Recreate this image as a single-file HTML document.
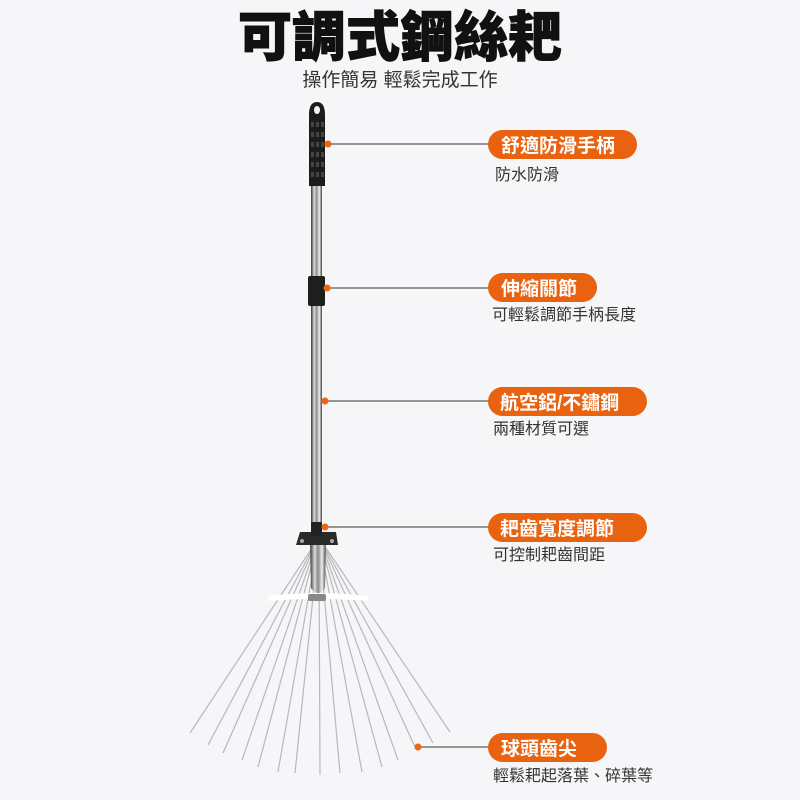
<!DOCTYPE html>
<html><head><meta charset="utf-8"><style>
html,body{margin:0;padding:0;background:#f6f6f8;}
svg{display:block}
text{font-family:"Liberation Sans","Noto Sans CJK TC",sans-serif;}
</style></head><body>
<svg width="800" height="800" viewBox="0 0 800 800" xmlns="http://www.w3.org/2000/svg">
<rect width="800" height="800" fill="#f6f6f8"/>
<defs>
<linearGradient id="pole" x1="0" x2="1" y1="0" y2="0">
<stop offset="0" stop-color="#333"/><stop offset="0.3" stop-color="#ddd"/><stop offset="0.5" stop-color="#888"/><stop offset="0.75" stop-color="#eee"/><stop offset="1" stop-color="#444"/>
</linearGradient>
</defs>
<text x="400" y="56" text-anchor="middle" font-size="54" font-weight="900" fill="#111" stroke="#111" stroke-width="1">可調式鋼絲耙</text>
<text x="400" y="86" text-anchor="middle" font-size="19" fill="#333">操作簡易 輕鬆完成工作</text>

<g stroke="#b8b8bc" stroke-width="1.2" fill="none">
<line x1="312" y1="548" x2="190" y2="733"/>
<line x1="313" y1="548" x2="208" y2="745"/>
<line x1="314" y1="548" x2="223" y2="753"/>
<line x1="315" y1="548" x2="242" y2="760"/>
<line x1="316" y1="548" x2="258" y2="767"/>
<line x1="317" y1="548" x2="278" y2="772"/>
<line x1="318" y1="548" x2="295" y2="773"/>
<line x1="319" y1="548" x2="320" y2="775"/>
<line x1="320" y1="548" x2="340" y2="773"/>
<line x1="321" y1="548" x2="362" y2="772"/>
<line x1="322" y1="548" x2="382" y2="767"/>
<line x1="323" y1="548" x2="398" y2="760"/>
<line x1="324" y1="548" x2="415" y2="747"/>
<line x1="325" y1="548" x2="433" y2="743"/>
<line x1="326" y1="548" x2="450" y2="732"/>
</g>
<path d="M268 596 Q318 590 368 596 L368 601 Q318 597 268 601 Z" fill="#fff"/>
<rect x="311" y="180" width="11" height="360" fill="url(#pole)"/>
<path d="M310 540 L326 540 L325 588 Q318 598 311 588 Z" fill="url(#pole)"/>
<rect x="308" y="594" width="18" height="7" rx="2" fill="#888"/>
<path d="M300 532 L336 532 L338 545 L296 545 Z" fill="#2a2a2a"/>
<circle cx="302" cy="541" r="2" fill="#aaa"/><circle cx="332" cy="541" r="2" fill="#aaa"/>
<rect x="311" y="522" width="11" height="14" fill="#222"/>
<rect x="308" y="276" width="17" height="30" rx="2" fill="#1e1e1e"/>
<path d="M309 186 L309 115 Q309 102 317 102 Q325 102 325 115 L325 186 Z" fill="#1c1c1c"/>
<ellipse cx="317" cy="110" rx="3" ry="4" fill="#f6f6f8"/>
<g fill="#444">
<rect x="311" y="122" width="3" height="5"/><rect x="316" y="122" width="3" height="5"/><rect x="321" y="122" width="3" height="5"/>
<rect x="311" y="132" width="3" height="5"/><rect x="316" y="132" width="3" height="5"/><rect x="321" y="132" width="3" height="5"/>
<rect x="311" y="142" width="3" height="5"/><rect x="316" y="142" width="3" height="5"/><rect x="321" y="142" width="3" height="5"/>
<rect x="311" y="152" width="3" height="5"/><rect x="316" y="152" width="3" height="5"/><rect x="321" y="152" width="3" height="5"/>
<rect x="311" y="162" width="3" height="5"/><rect x="316" y="162" width="3" height="5"/><rect x="321" y="162" width="3" height="5"/>
<rect x="311" y="172" width="3" height="5"/><rect x="316" y="172" width="3" height="5"/><rect x="321" y="172" width="3" height="5"/>
</g>

<g stroke="#777" stroke-width="1.5">
<line x1="328" y1="144" x2="490" y2="144"/>
<line x1="327" y1="288" x2="490" y2="288"/>
<line x1="325" y1="401" x2="490" y2="401"/>
<line x1="325" y1="527" x2="490" y2="527"/>
<line x1="418" y1="747" x2="490" y2="747"/>
</g>
<g fill="#f06414">
<circle cx="328" cy="144" r="3.5"/><circle cx="327" cy="288" r="3.5"/><circle cx="325" cy="401" r="3.5"/><circle cx="325" cy="527" r="3.5"/><circle cx="418" cy="747" r="3.5"/>
</g>
<g fill="#e8620f">
<rect x="488" y="130" width="149" height="29" rx="14.5"/>
<rect x="488" y="273" width="109" height="29" rx="14.5"/>
<rect x="488" y="387" width="159" height="29" rx="14.5"/>
<rect x="488" y="513" width="159" height="29" rx="14.5"/>
<rect x="488" y="733" width="119" height="29" rx="14.5"/>
</g>
<g fill="#fff" font-size="19" font-weight="bold">
<text x="501" y="152">舒適防滑手柄</text>
<text x="501" y="295">伸縮關節</text>
<text x="500" y="409">航空鋁/不鏽鋼</text>
<text x="500" y="535">耙齒寬度調節</text>
<text x="501" y="755">球頭齒尖</text>
</g>
<g fill="#333" font-size="16">
<text x="495" y="180">防水防滑</text>
<text x="492" y="320">可輕鬆調節手柄長度</text>
<text x="493" y="434">兩種材質可選</text>
<text x="493" y="560">可控制耙齒間距</text>
<text x="493" y="781">輕鬆耙起落葉、碎葉等</text>
</g>
</svg>
</body></html>
